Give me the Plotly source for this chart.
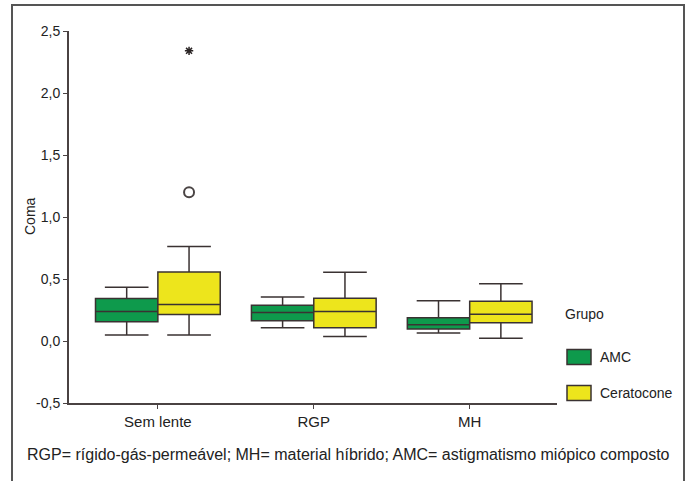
import plotly.graph_objects as go

categories = ["Sem lente", "RGP", "MH"]
groups = ["AMC", "Ceratocone"]
colors = ["#0e9a4c", "#ede51c"]
y_tickvals = [-0.5, 0.0, 0.5, 1.0, 1.5, 2.0, 2.5]
y_ticktext = ["-0,5", "0,0", "0,5", "1,0", "1,5", "2,0", "2,5"]

# precomputed box statistics per group
amc_q1 = [0.155, 0.164, 0.097]
amc_med = [0.237, 0.230, 0.132]
amc_q3 = [0.343, 0.288, 0.188]
amc_lo = [0.048, 0.106, 0.065]
amc_hi = [0.434, 0.354, 0.324]

cer_q1 = [0.213, 0.106, 0.148]
cer_med = [0.295, 0.237, 0.216]
cer_q3 = [0.557, 0.344, 0.321]
cer_lo = [0.048, 0.037, 0.022]
cer_hi = [0.763, 0.554, 0.461]

# outliers of Ceratocone, Sem lente
outlier_circle = [1.20]
outlier_star = [2.34]

W, H = 688, 481
L, R, T, B = 69, 557, 31, 403  # plot area in pixels


def px(x):
    return (x - L) / (R - L)


def py(y):
    return (B - y) / (B - T)


fig = go.Figure()
line_col = "#3a3232"
offset = 0.2
stats = [
    (amc_q1, amc_med, amc_q3, amc_lo, amc_hi),
    (cer_q1, cer_med, cer_q3, cer_lo, cer_hi),
]
for gi, (g, c, st) in enumerate(zip(groups, colors, stats)):
    q1, med, q3, lo, hi = st
    xs = [i + (offset if gi else -offset) for i in range(len(categories))]
    fig.add_trace(go.Box(
        x=xs, q1=q1, median=med, q3=q3, lowerfence=lo, upperfence=hi,
        width=0.4, whiskerwidth=0.7, fillcolor=c,
        line=dict(color=line_col, width=1.5), name=g, boxpoints=False,
        showlegend=False, hoverinfo="skip",
    ))

fig.add_trace(go.Scatter(
    x=[0 + offset] * len(outlier_circle), y=outlier_circle, mode="markers",
    marker=dict(symbol="circle-open", size=10, color="#4a4444", line=dict(width=2)),
    showlegend=False,
))
fig.add_trace(go.Scatter(
    x=[0 + offset] * len(outlier_star), y=outlier_star, mode="markers",
    marker=dict(symbol="asterisk-open", size=7, color="#2a2424", line=dict(width=1.5)),
    showlegend=False,
))

font = "Liberation Sans, Arial, sans-serif"
shapes = [
    # outer frame
    dict(type="rect", xref="paper", yref="paper", x0=px(12), x1=px(684), y0=py(495), y1=py(5),
         line=dict(color="#555555", width=2), fillcolor="rgba(0,0,0,0)", layer="above"),
]
annotations = [
    dict(text="Coma", xref="paper", yref="paper", x=px(30), y=py(216), xanchor="center",
         yanchor="middle", textangle=-90, showarrow=False,
         font=dict(size=14, color="#222", family=font)),
    dict(text="Grupo", xref="paper", yref="paper", x=px(563), y=py(314), xanchor="left",
         yanchor="middle", showarrow=False, font=dict(size=14, color="#222", family=font)),
    dict(text="RGP= rígido-gás-permeável; MH= material híbrido; AMC= astigmatismo miópico composto",
         xref="paper", yref="paper", x=px(348), y=py(455), xanchor="center", yanchor="middle",
         showarrow=False, font=dict(size=16, color="#222", family=font)),
]
for gi, (g, c) in enumerate(zip(groups, colors)):
    yc = 357 + gi * 36
    shapes.append(dict(type="rect", xref="paper", yref="paper", x0=px(567), x1=px(591),
                       y0=py(yc + 7.5), y1=py(yc - 7.5), fillcolor=c,
                       line=dict(color=line_col, width=1.5)))
    annotations.append(dict(text=g, xref="paper", yref="paper", x=px(598), y=py(yc),
                            xanchor="left", yanchor="middle", showarrow=False,
                            font=dict(size=14, color="#222", family=font)))

fig.update_layout(
    width=W, height=H,
    margin=dict(l=L, r=W - R, t=T, b=H - B, pad=0),
    paper_bgcolor="white", plot_bgcolor="white",
    font=dict(family=font, size=14, color="#222"),
    shapes=shapes, annotations=annotations,
    xaxis=dict(range=[-0.57, 2.56], tickvals=list(range(len(categories))), ticktext=categories,
               showgrid=False, zeroline=False, showline=True, linecolor="#4a4242", linewidth=2,
               ticks="outside", ticklen=4, tickcolor="#4a4242", tickfont=dict(size=15)),
    yaxis=dict(range=[-0.5, 2.5], tickvals=y_tickvals, ticktext=y_ticktext,
               showgrid=False, zeroline=False, showline=True, linecolor="#4a4242", linewidth=2,
               ticks="outside", ticklen=4, tickcolor="#4a4242", tickfont=dict(size=14)),
)

fig.write_html("out.html")
